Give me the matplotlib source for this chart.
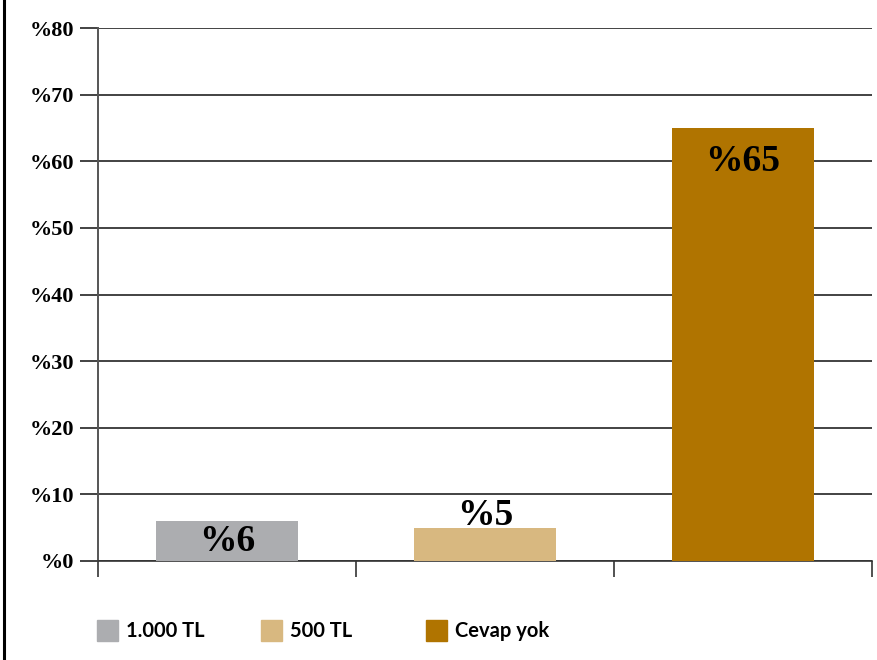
import matplotlib.pyplot as plt
from matplotlib.patches import Rectangle
from matplotlib.lines import Line2D

categories = ['1.000 TL', '500 TL', 'Cevap yok']
values = [6, 5, 65]
colors = ['#acadb0', '#d8b880', '#b07400']
yticks = [0, 10, 20, 30, 40, 50, 60, 70, 80]

W, H = 877, 660
fig = plt.figure(figsize=(W / 100, H / 100), dpi=100)
ax = fig.add_axes([98 / W, 1 - 561 / H, 774 / W, 533 / H])

x = [i + 0.5 for i in range(len(categories))]
ax.bar(x, values, width=0.547, color=colors, zorder=3)

# value labels: inside the bar when there's room, above it otherwise
for xi, v in zip(x, values):
    if v >= 6:
        ypos = v - 5 if v > 20 else v / 2
        va = 'center'
    else:
        ypos = v + 0.4
        va = 'baseline'
    ax.text(xi, ypos, f'%{v}', ha='center', va=va, fontsize=27,
            fontweight='bold', family='Liberation Serif', zorder=4)

ax.set_xlim(0, 3)
ax.set_ylim(0, 80)
ax.set_yticks(yticks)
ax.set_yticklabels([f'%{t}' for t in yticks], fontsize=16,
                   fontweight='bold', family='Liberation Serif')
ax.set_xticks([0, 1, 2, 3])
ax.set_xticklabels([])
ax.tick_params(axis='x', length=11.5, width=1.2, color='#333333', direction='out')
ax.tick_params(axis='y', length=13, width=1.2, color='#222222', pad=4)
ax.yaxis.grid(True, color='#222222', linewidth=1.2, zorder=1)
for s in ['top', 'right']:
    ax.spines[s].set_visible(False)
ax.spines['left'].set_color('#555555')
ax.spines['left'].set_linewidth(1.4)
ax.spines['bottom'].set_color('#333333')
ax.spines['bottom'].set_linewidth(1.2)
ax.set_axisbelow(True)

# legend along the bottom, one swatch + label per category
legend_x = [97, 261, 426]
for lx, c, name in zip(legend_x, colors, categories):
    fig.add_artist(Rectangle((lx / W, 1 - 641 / H), 21 / W, 21 / H,
                             color=c, transform=fig.transFigure))
    fig.text((lx + 29) / W, 1 - 631 / H, name, ha='left', va='center',
             family='Lato', fontweight='bold', fontsize=14.5)

# frame line on the left edge
fig.add_artist(Line2D([4 / W, 4 / W], [0, 1], color='black', linewidth=2.2,
                      transform=fig.transFigure))

fig.savefig('out.png', dpi=100)
